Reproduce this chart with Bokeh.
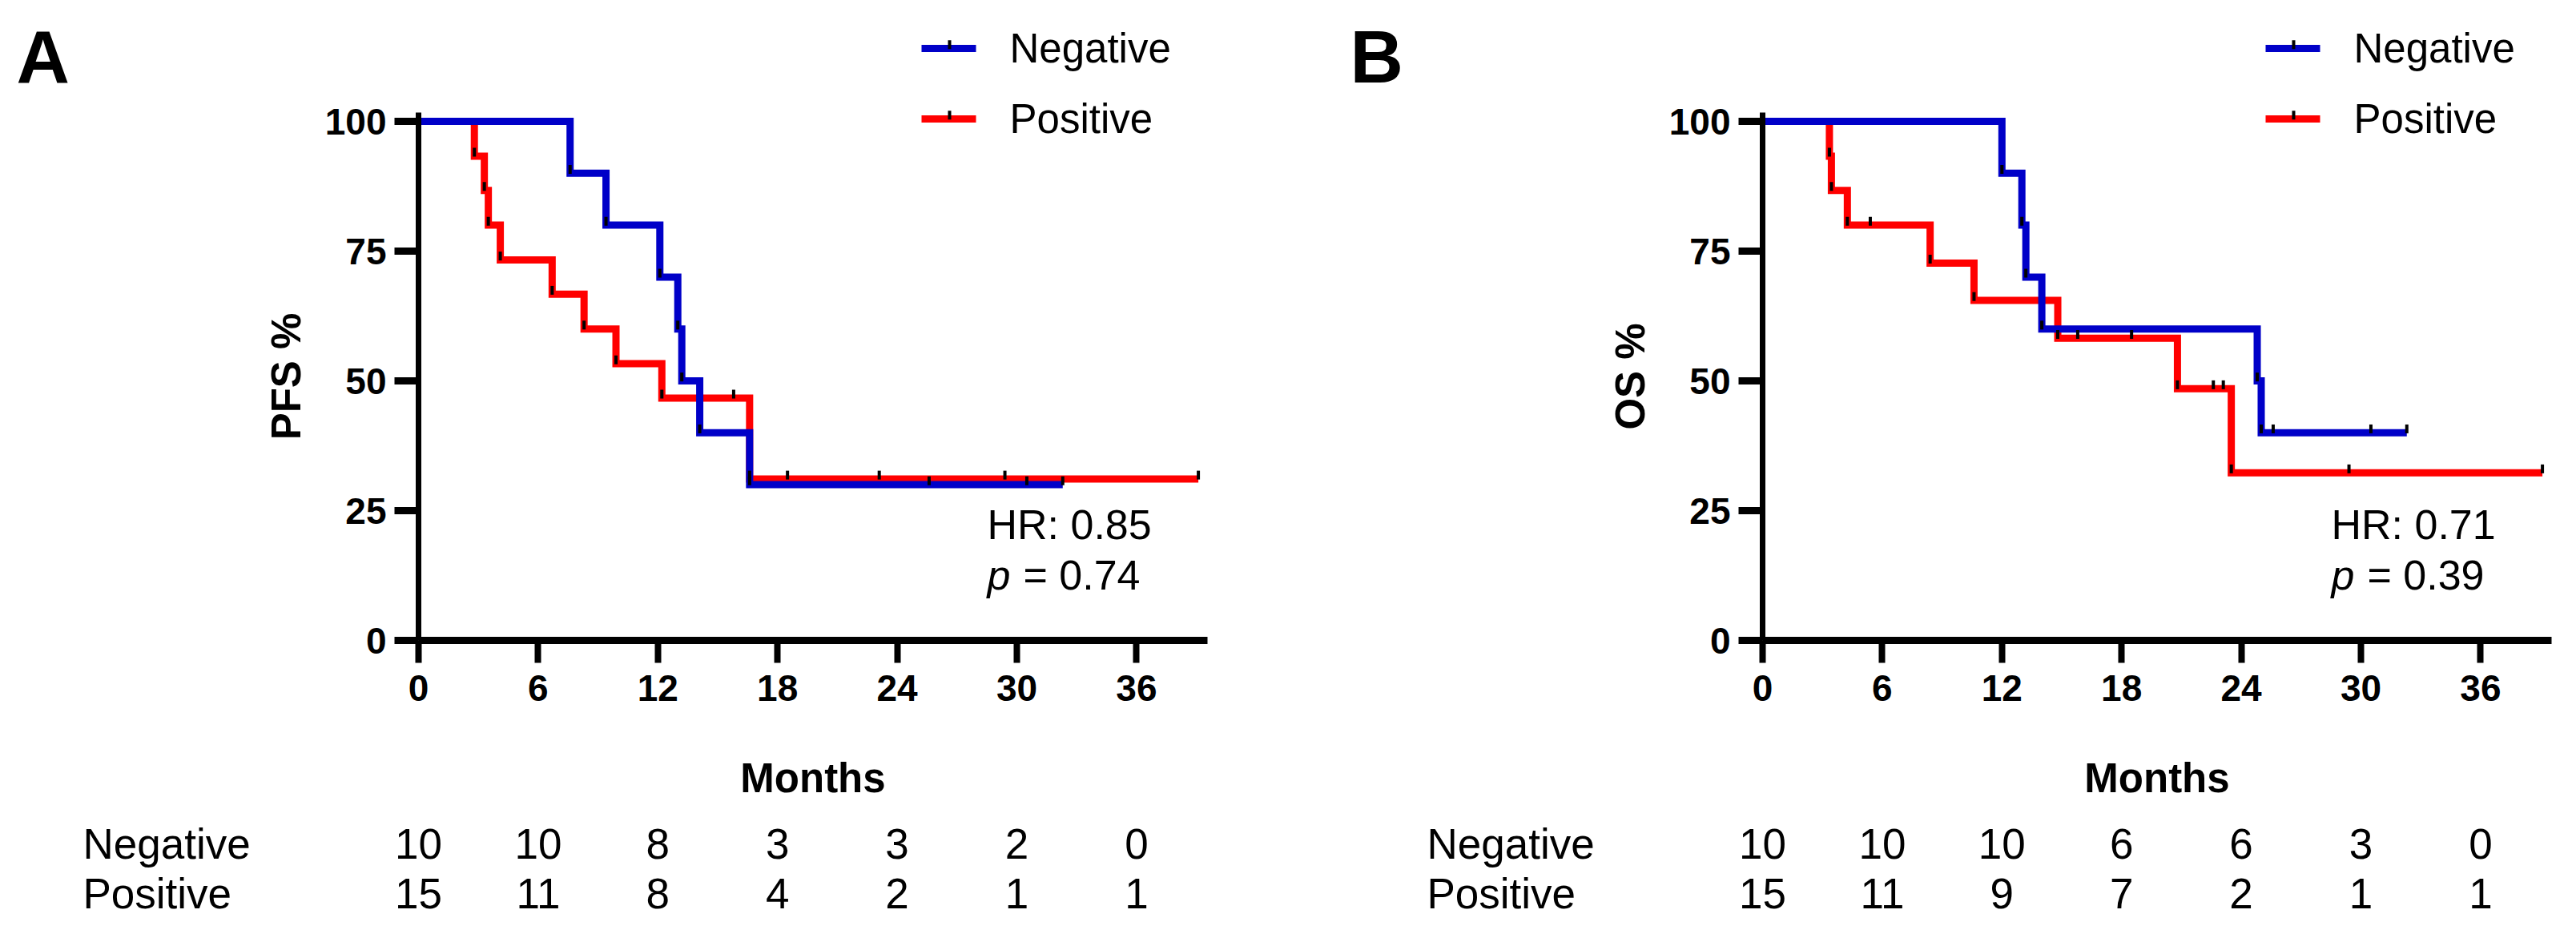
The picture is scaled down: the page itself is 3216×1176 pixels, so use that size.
import math
from bokeh.plotting import figure
from bokeh.models import Range1d, FixedTicker, ColumnDataSource
from bokeh.layouts import row
from bokeh.embed import file_html
from bokeh.resources import INLINE
from bokeh.core.properties import value

# ---------------- data ----------------
x_ticks = [0, 6, 12, 18, 24, 30, 36]
y_ticks = [0, 25, 50, 75, 100]
risk_times = [0, 6, 12, 18, 24, 30, 36]
group_names = ["Negative", "Positive"]

# Panel A : PFS
pfs_neg_t = [0, 7.6, 9.4, 12.1, 13.0, 13.2, 14.1, 16.6, 32.3]
pfs_neg_s = [100, 90, 80, 70, 60, 50, 40, 30, 30]
pfs_neg_cens_t = [25.6, 30.5, 32.3]
pfs_neg_cens_s = [30, 30, 30]

pfs_pos_t = [0, 2.8, 3.3, 3.5, 4.1, 6.7, 8.3, 9.9, 12.2, 16.6, 39.1]
pfs_pos_s = [100, 93.3, 86.7, 80, 73.3, 66.7, 60, 53.3, 46.7, 31.1, 31.1]
pfs_pos_cens_t = [15.8, 18.5, 23.1, 29.4, 39.1]
pfs_pos_cens_s = [46.7, 31.1, 31.1, 31.1, 31.1]

pfs_risk_neg = [10, 10, 8, 3, 3, 2, 0]
pfs_risk_pos = [15, 11, 8, 4, 2, 1, 1]
pfs_hr = "HR: 0.85"
pfs_p = "= 0.74"

# Panel B : OS
os_neg_t = [0, 12.0, 13.0, 13.2, 14.0, 24.8, 25.0, 32.3]
os_neg_s = [100, 90, 80, 70, 60, 50, 40, 40]
os_neg_cens_t = [25.6, 30.5, 32.3]
os_neg_cens_s = [40, 40, 40]

os_pos_t = [0, 3.35, 3.45, 4.25, 8.4, 10.6, 14.8, 20.8, 23.5, 39.1]
os_pos_s = [100, 93.3, 86.7, 80, 72.7, 65.5, 58.2, 48.5, 32.3, 32.3]
os_pos_cens_t = [5.4, 15.8, 18.5, 22.6, 23.1, 29.4, 39.1]
os_pos_cens_s = [80, 58.2, 58.2, 48.5, 48.5, 32.3, 32.3]

os_risk_neg = [10, 10, 10, 6, 6, 3, 0]
os_risk_pos = [15, 11, 9, 7, 2, 1, 1]
os_hr = "HR: 0.71"
os_p = "= 0.39"

# ---------------- layout / style (pixels) ----------------
FONT = "Liberation Sans"
BLUE = "#0000C8"
RED = "#FF0000"
FIG_W, FIG_H = 1600, 1168
PX_MONTH = 24.9          # pixels per month
PX_PCT = 6.48            # pixels per percent
ORIGIN_UP = 799          # origin distance from the figure top edge (px)
X_AXIS_END = 39.56
Y_AXIS_END = 101.7
TICK_OFF = 0.75          # censor tick raised half its length (in %)
LINE_W = 9

# positions relative to the axis origin, in px (right / up positive)
LEG_X0, LEG_X1, LEG_TICK, LEG_TEXT = 628, 696, 663, 738
LEG_ROWS = [739, 651]
RISK_NAME_X = -419
RISK_ROWS = [-254, -316]
HR_X, HR_Y, P_Y, PV_DX = 710, 145, 82, 45
LETTER_Y = 729


def tick_points(t, s, ct, cs):
    xs, ys = [], []
    for i in range(1, len(t)):
        if s[i] < s[i - 1]:
            xs.append(t[i]); ys.append(s[i] + TICK_OFF)
    for a, b in zip(ct, cs):
        xs.append(a); ys.append(b + TICK_OFF)
    return xs, ys


def make_panel(letter, letter_x, origin_x, ylabel, neg, pos, risk_neg, risk_pos, hr, pv):
    mx = lambda px: px / PX_MONTH
    my = lambda px: px / PX_PCT
    p = figure(width=FIG_W, height=FIG_H, output_backend="svg", toolbar_location=None,
               x_range=Range1d(mx(-origin_x), mx(FIG_W - origin_x)),
               y_range=Range1d(my(ORIGIN_UP - FIG_H), my(ORIGIN_UP)),
               min_border=0)
    p.outline_line_color = None
    p.grid.visible = False
    p.background_fill_color = "white"
    p.border_fill_color = "white"

    xa = p.xaxis[0]
    xa.fixed_location = 0
    xa.ticker = FixedTicker(ticks=x_ticks)
    xa.bounds = (0, X_AXIS_END)
    xa.axis_line_width = 9
    xa.major_tick_line_width = 8
    xa.major_tick_out = 28
    xa.major_tick_in = 0
    xa.minor_tick_line_color = None
    xa.major_label_text_font = FONT
    xa.major_label_text_font_size = "46px"
    xa.major_label_text_font_style = "bold"
    xa.major_label_text_color = "black"
    xa.major_label_standoff = 15
    xa.axis_label = "Months"
    xa.axis_label_text_font = FONT
    xa.axis_label_text_font_size = "51px"
    xa.axis_label_text_font_style = "bold"
    xa.axis_label_text_color = "black"
    xa.axis_label_standoff = 65

    ya = p.yaxis[0]
    ya.fixed_location = 0
    ya.ticker = FixedTicker(ticks=y_ticks)
    ya.bounds = (0, Y_AXIS_END)
    ya.axis_line_width = 7
    ya.major_tick_line_width = 9
    ya.major_tick_out = 30
    ya.major_tick_in = 0
    ya.minor_tick_line_color = None
    ya.major_label_text_font = FONT
    ya.major_label_text_font_size = "46px"
    ya.major_label_text_font_style = "bold"
    ya.major_label_text_color = "black"
    ya.major_label_standoff = 10
    ya.axis_label = ylabel
    ya.axis_label_text_font = FONT
    ya.axis_label_text_font_size = "51px"
    ya.axis_label_text_font_style = "bold"
    ya.axis_label_text_color = "black"
    ya.axis_label_standoff = 17

    groups = {"neg": (neg, BLUE), "pos": (pos, RED)}
    for key in ("pos", "neg"):
        (t, s, ct, cs), color = groups[key]
        p.step(x="t", y="s", source=ColumnDataSource(dict(t=t, s=s)), mode="after",
               line_color=color, line_width=LINE_W, line_join="miter")
    for key in ("pos", "neg"):
        (t, s, ct, cs), color = groups[key]
        tx, ty = tick_points(t, s, ct, cs)
        p.scatter(x=tx, y=ty, marker="dash", angle=math.pi / 2, size=11,
                  line_color="black", line_width=4)

    # legend (line swatch with a censor tick, then label)
    for (key, name), ry in zip((("neg", group_names[0]), ("pos", group_names[1])), LEG_ROWS):
        color = groups[key][1]
        p.segment(x0=[mx(LEG_X0)], y0=[my(ry)], x1=[mx(LEG_X1)], y1=[my(ry)],
                  line_color=color, line_width=LINE_W)
        p.scatter(x=[mx(LEG_TICK)], y=[my(ry) + TICK_OFF], marker="dash", angle=math.pi / 2,
                  size=11, line_color="black", line_width=4)
        p.text(x=[mx(LEG_TEXT)], y=[my(ry)], text=[name], text_font=value(FONT),
               text_font_size=value("51px"), text_baseline="middle", text_align="left",
               text_color="black")

    # panel letter
    p.text(x=[mx(letter_x)], y=[my(LETTER_Y)], text=[letter], text_font=value(FONT),
           text_font_size=value("92px"), text_font_style="bold",
           text_baseline="middle", text_color="black")

    # HR and p value
    p.text(x=[mx(HR_X)], y=[my(HR_Y)], text=[hr], text_font=value(FONT),
           text_font_size=value("52px"), text_baseline="middle", text_color="black")
    p.text(x=[mx(HR_X)], y=[my(P_Y)], text=["p"], text_font=value(FONT),
           text_font_size=value("52px"), text_font_style="italic",
           text_baseline="middle", text_color="black")
    p.text(x=[mx(HR_X + PV_DX)], y=[my(P_Y)], text=[pv], text_font=value(FONT),
           text_font_size=value("52px"), text_baseline="middle", text_color="black")

    # number-at-risk table
    for name, counts, ry in ((group_names[0], risk_neg, RISK_ROWS[0]),
                             (group_names[1], risk_pos, RISK_ROWS[1])):
        p.text(x=[mx(RISK_NAME_X)], y=[my(ry)], text=[name], text_font=value(FONT),
               text_font_size=value("53px"), text_baseline="middle", text_align="left",
               text_color="black")
        src = ColumnDataSource(dict(x=risk_times, y=[my(ry)] * len(risk_times),
                                    text=[str(c) for c in counts]))
        p.text(x="x", y="y", text="text", source=src, text_font=value(FONT),
               text_font_size=value("53px"), text_baseline="middle", text_align="center",
               text_color="black")
    return p


pa = make_panel("A", -502, 522, "PFS %",
                (pfs_neg_t, pfs_neg_s, pfs_neg_cens_t, pfs_neg_cens_s),
                (pfs_pos_t, pfs_pos_s, pfs_pos_cens_t, pfs_pos_cens_s),
                pfs_risk_neg, pfs_risk_pos, pfs_hr, pfs_p)
pb = make_panel("B", -515, 600, "OS %",
                (os_neg_t, os_neg_s, os_neg_cens_t, os_neg_cens_s),
                (os_pos_t, os_pos_s, os_pos_cens_t, os_pos_cens_s),
                os_risk_neg, os_risk_pos, os_hr, os_p)

layout = row(pa, pb, spacing=0)
open("out.html", "w").write(file_html(layout, INLINE))
